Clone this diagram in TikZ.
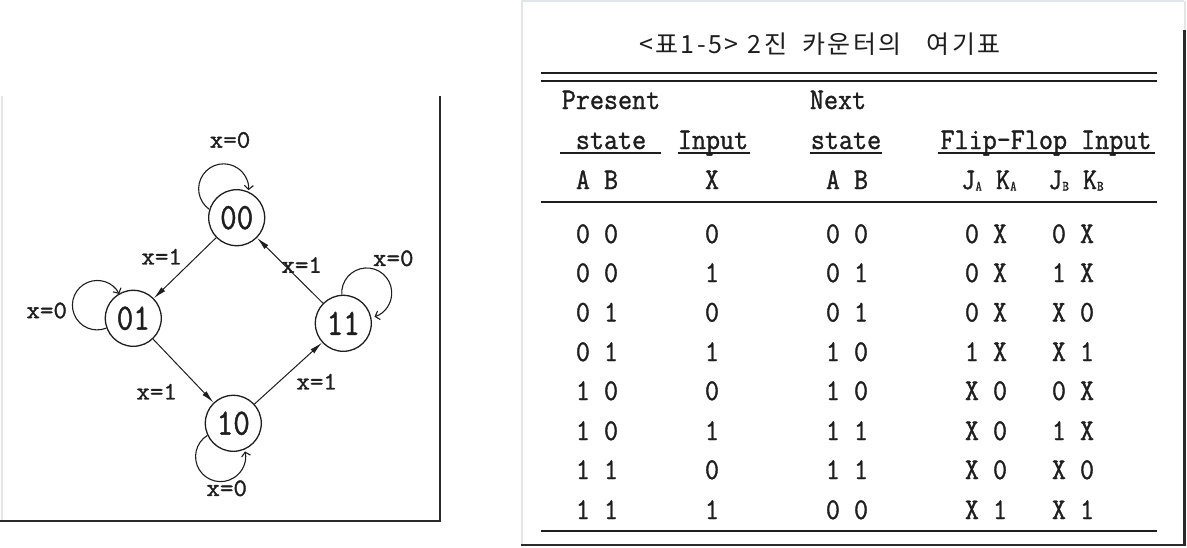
\documentclass[tikz,border=0pt]{standalone}
\usepackage{fontspec}
\usetikzlibrary{arrows.meta}
\newfontfamily\narrowmono[FakeStretch=0.91,FakeBold=1.2]{Latin Modern Mono}
\newfontfamily\statemono[FakeStretch=0.87,FakeBold=1.2]{Latin Modern Mono}
\newfontfamily\labmono[FakeStretch=1.05,FakeBold=1.4]{Latin Modern Mono}
\newfontfamily\krfont[LetterSpace=10]{Noto Sans CJK KR}
\newcommand\subtxt[1]{{\narrowmono\fontsize{14}{14}\selectfont\raisebox{-1.5pt}{#1}}}
\definecolor{ink}{HTML}{1E1E1E}
\definecolor{framegray}{HTML}{2A2A2A}
\definecolor{lightframe}{HTML}{E2E6E8}
\begin{document}
\begin{tikzpicture}[x=1pt,y=1pt,
  state/.style={circle,draw=ink,line width=1.3pt,minimum size=56pt,inner sep=0pt,
    font=\statemono\fontsize{37}{37}\selectfont,text=ink},
  edgeA/.style={draw=ink,line width=1pt,-{Latex[length=13pt,width=5.5pt]}},
  loopA/.style={draw=ink,line width=1.1pt,-{Straight Barb[length=4pt,width=9pt]}},
  lab/.style={inner sep=0pt,font=\labmono\fontsize{25}{25}\selectfont,text=ink},
  cell/.style={inner sep=0pt,anchor=base,font=\narrowmono\fontsize{30}{30}\selectfont,text=ink},
  rulethick/.style={draw=ink,line width=2.2pt},
  ruleul/.style={draw=ink,line width=1.8pt},
]
\useasboundingbox (0,0) rectangle (1187,-547);
\fill[white] (0,0) rectangle (1187,-547);

% ---------- frames ----------
\draw[lightframe,line width=1.2pt] (2,-96) -- (2,-521);
\draw[framegray,line width=2.6pt] (440,-96) -- (440,-521) -- (0,-521);
\draw[lightframe,line width=1.2pt] (522,-545) -- (522,-1) -- (1184,-1);
\draw[lightframe,line width=2pt] (1184.5,-1) -- (1184.5,-30);
\draw[framegray,line width=2.6pt] (1184.5,-30) -- (1184.5,-545) -- (521,-545);

% ---------- state diagram ----------
\node[state] (s00) at (236.7,-217.7) {00};
\node[state] (s01) at (133.3,-318.3) {01};
\node[state] (s11) at (343.3,-323.3) {11};
\node[state] (s10) at (233.3,-423.3) {10};

\draw[edgeA] (s00) -- (s01);
\draw[edgeA] (s01) -- (s10);
\draw[edgeA] (s10) -- (s11);
\draw[edgeA] (s11) -- (s00);

\draw[loopA] (s00.163) arc[start angle=235,end angle=-3,radius=25];
\draw[loopA] (s01.200) arc[start angle=-68,end angle=-333,radius=24.7];
\draw[loopA] (s11.93) arc[start angle=184,end angle=-72,radius=25];
\draw[loopA] (s10.205) arc[start angle=122,end angle=372,radius=25];

\node[lab] (l00) at (230,-140) {x=0};
\node[lab] (l0001) at (161.7,-256.7) {x=1};
\node[lab] (l1100) at (301.7,-265) {x=1};
\node[lab] (l11) at (393.3,-258.3) {x=0};
\node[lab] (l01) at (46.7,-310.5) {x=0};
\node[lab] (l0110) at (156.7,-391.7) {x=1};
\node[lab] (l1011) at (316.7,-381.7) {x=1};
\node[lab] (l10) at (226.7,-488.3) {x=0};

% ---------- table ----------
\node[font=\krfont\fontsize{25}{25}\selectfont,text=ink,inner sep=0pt] (title) at (820,-44)
  {<표1-5>\hspace{1pt} 2진\hspace{7pt} 카운터의\hspace{17pt} 여기표};

\draw[rulethick] (541,-73) -- (1157,-73);
\draw[rulethick] (541,-81) -- (1157,-81);
\draw[rulethick] (541,-202) -- (1157,-202);
\draw[rulethick] (541,-531) -- (1157,-531);

\node[cell] (hpres) at (611,-109) {Present};
\node[cell] (hnext) at (838,-109) {Next};
\node[cell] (hps) at (611,-149) {state};
\node[cell] (hin) at (713,-149) {Input};
\node[cell] (hns) at (846,-149) {state};
\node[cell] (hff) at (1046,-149) {Flip-Flop Input};
\draw[ruleul] (560,-153) -- (661,-153);
\draw[ruleul] (678,-153) -- (750,-153);
\draw[ruleul] (810,-153) -- (882,-153);
\draw[ruleul] (938,-153) -- (1155,-153);

\node[cell] (hab) at (597,-189) {A B};
\node[cell] (hx) at (712,-189) {X};
\node[cell] (hab2) at (847,-189) {A B};
\node[cell] (hjka) at (989,-189) {J\subtxt{A} K\subtxt{A}};
\node[cell] (hjkb) at (1076,-189) {J\subtxt{B} K\subtxt{B}};

\foreach \yc/\pa/\px/\na/\fa/\fb [count=\i] in {
  234/0 0/0/0 0/0 X/0 X,
  273/0 0/1/0 1/0 X/1 X,
  312.5/0 1/0/0 1/0 X/X 0,
  352/0 1/1/1 0/1 X/X 1,
  391/1 0/0/1 0/X 0/0 X,
  431/1 0/1/1 1/X 0/1 X,
  470/1 1/0/1 1/X 0/X 0,
  510/1 1/1/0 0/X 1/X 1}{
  \node[cell] (r\i a) at (597,-\yc-9) {\pa};
  \node[cell] (r\i x) at (712,-\yc-9) {\px};
  \node[cell] (r\i n) at (847,-\yc-9) {\na};
  \node[cell] (r\i f) at (986,-\yc-9) {\fa};
  \node[cell] (r\i g) at (1073,-\yc-9) {\fb};
}
\end{tikzpicture}
\end{document}
